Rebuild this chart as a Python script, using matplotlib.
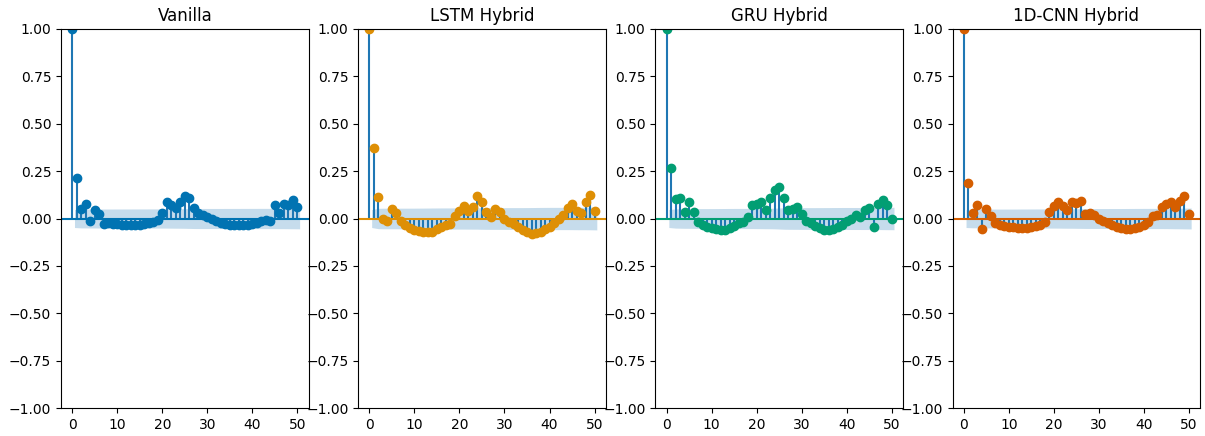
import numpy as np
import matplotlib
matplotlib.use("Agg")
import matplotlib.pyplot as plt

titles = ["Vanilla", "LSTM Hybrid", "GRU Hybrid", "1D-CNN Hybrid"]
colors = ["#0173b2", "#de8f05", "#029e73", "#d55e00"]
xtick_vals = [0, 10, 20, 30, 40, 50]
nobs = 1700

acf_vanilla = [1.0, 0.215, 0.048, 0.075, -0.013, 0.045, 0.022, -0.031, -0.025, -0.03,
               -0.03, -0.032, -0.033, -0.033, -0.033, -0.032, -0.03, -0.025, -0.02, -0.01,
               0.03, 0.089, 0.071, 0.053, 0.089, 0.12, 0.107, 0.053, 0.027, 0.02,
               0.01, 0.0, -0.013, -0.026, -0.03, -0.033, -0.035, -0.035, -0.035, -0.033,
               -0.03, -0.025, -0.015, -0.008, -0.013, 0.071, 0.03, 0.077, 0.071, 0.098,
               0.062]
acf_lstm = [1.0, 0.374, 0.115, -0.003, -0.013, 0.048, 0.031, -0.013, -0.034, -0.048,
            -0.061, -0.066, -0.073, -0.073, -0.07, -0.058, -0.043, -0.034, -0.03, 0.013,
            0.04, 0.066, 0.04, 0.062, 0.119, 0.089, 0.035, 0.008, 0.048, 0.035,
            0.0, -0.018, -0.03, -0.045, -0.061, -0.07, -0.08, -0.075, -0.07, -0.058,
            -0.043, -0.022, 0.0, 0.018, 0.058, 0.079, 0.04, 0.031, 0.089, 0.124,
            0.042]
acf_gru = [1.0, 0.265, 0.103, 0.11, 0.036, 0.089, 0.036, -0.017, -0.034, -0.043,
           -0.052, -0.058, -0.061, -0.061, -0.052, -0.04, -0.026, -0.017, 0.009, 0.071,
           0.077, 0.085, 0.044, 0.106, 0.15, 0.168, 0.11, 0.044, 0.05, 0.062,
           0.026, -0.012, -0.026, -0.04, -0.052, -0.061, -0.061, -0.056, -0.047, -0.035,
           -0.012, 0.0, 0.021, 0.01, 0.044, 0.053, -0.047, 0.074, 0.097, 0.071,
           -0.005]
acf_cnn = [1.0, 0.185, 0.031, 0.071, -0.057, 0.05, 0.013, -0.022, -0.034, -0.04,
           -0.044, -0.047, -0.049, -0.049, -0.049, -0.044, -0.04, -0.035, -0.018, 0.036,
           0.067, 0.088, 0.065, 0.047, 0.088, 0.083, 0.093, 0.026, 0.03, 0.018,
           0.0, -0.014, -0.026, -0.035, -0.044, -0.049, -0.053, -0.053, -0.049, -0.044,
           -0.035, -0.018, 0.012, 0.021, 0.062, 0.079, 0.088, 0.062, 0.093, 0.118,
           0.026]
series = [acf_vanilla, acf_lstm, acf_gru, acf_cnn]

fig, axes = plt.subplots(1, 4, figsize=(12.05, 4.36), dpi=100)
fig.subplots_adjust(left=0.0506, right=0.996, top=0.9335, bottom=0.0642, wspace=0.2)

for ax, acf, col, title in zip(axes, series, colors, titles):
    acf = np.asarray(acf)
    lags = np.arange(len(acf))
    # Bartlett confidence band
    var = np.ones(len(acf)) / nobs
    var[0] = 0
    var[2:] *= 1 + 2 * np.cumsum(acf[1:-1] ** 2)
    half = 1.96 * np.sqrt(var)
    ax.vlines(lags, 0, acf, color="#1f77b4", linewidth=1.5)
    ax.axhline(0, color=col, linewidth=1.5)
    ax.plot(lags, acf, marker="o", markersize=6, linestyle="None", color=col)
    bl = lags[1:].astype(float)
    bl[0] -= 0.5
    bl[-1] += 0.5
    ax.fill_between(bl, -half[1:], half[1:], alpha=0.25, color="#1f77b4", linewidth=0)
    ax.set_xlim(-2.5, 52.5)
    ax.set_ylim(-1, 1)
    ax.set_xticks(xtick_vals)
    ax.set_yticks(np.arange(-1, 1.01, 0.25))
    ax.set_title(title, fontsize=12)

fig.savefig("out.png", dpi=100)
